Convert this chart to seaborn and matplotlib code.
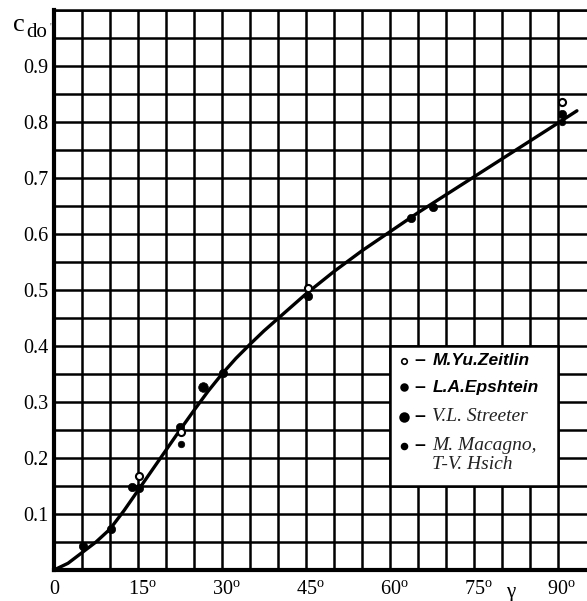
import matplotlib
matplotlib.use("Agg")
import matplotlib.pyplot as plt
import matplotlib.transforms as mtransforms
from matplotlib.patches import Rectangle
import seaborn as sns
import pandas as pd

# ---- data ----
curve_x = [0, 2.5, 5, 7.5, 10, 12.5, 15, 17.5, 20, 22.5, 25, 27.5, 30, 32.5, 35, 37.5, 40, 42.5, 45,
           50, 55, 60, 65, 70, 75, 80, 85, 90, 93.4]
curve_y = [0, 0.012, 0.031, 0.050, 0.073, 0.106, 0.142, 0.178, 0.214, 0.25, 0.285, 0.319, 0.350, 0.378,
           0.403, 0.427, 0.449, 0.471, 0.493, 0.533, 0.570, 0.604, 0.638, 0.670, 0.702, 0.734, 0.766,
           0.798, 0.82]

zeitlin_x = [15.2, 22.7, 45.4, 90.7]
zeitlin_y = [0.168, 0.247, 0.504, 0.836]

epshtein_x = [5.2, 10.2, 13.9, 15.2, 22.5, 30.2, 45.4, 63.7, 67.7, 90.7]
epshtein_y = [0.043, 0.074, 0.148, 0.146, 0.255, 0.352, 0.49, 0.628, 0.649, 0.814]

streeter_x = [26.6]
streeter_y = [0.326]

macagno_x = [22.7, 90.7]
macagno_y = [0.225, 0.80]

legend_names = ["M.Yu.Zeitlin", "L.A.Epshtein", "V.L. Streeter", "M. Macagno,\nT-V. Hsich"]

x_ticks = list(range(0, 95, 5))
x_labels = {0: "0", 15: r"15$^{\mathrm{o}}$", 30: r"30$^{\mathrm{o}}$", 45: r"45$^{\mathrm{o}}$",
            60: r"60$^{\mathrm{o}}$", 75: r"75$^{\mathrm{o}}$", 90: r"90$^{\mathrm{o}}$"}
y_ticks = [i * 0.05 for i in range(0, 21)]
y_labels = {2: "0.1", 4: "0.2", 6: "0.3", 8: "0.4", 10: "0.5", 12: "0.6", 14: "0.7", 16: "0.8", 18: "0.9"}

# ---- style ----
sns.set_theme(style="white")
plt.rcParams["font.family"] = ["Liberation Serif", "DejaVu Serif"]
plt.rcParams["mathtext.fontset"] = "custom"
plt.rcParams["mathtext.rm"] = "Liberation Serif"
plt.rcParams["mathtext.it"] = "Liberation Serif:italic"

W, H = 587, 601
fig = plt.figure(figsize=(W / 100, H / 100), dpi=100)
ax = fig.add_axes([54 / W, (H - 570) / H, (W - 54) / W, 560 / H])

df_curve = pd.DataFrame({"x": curve_x, "y": curve_y})
sns.lineplot(data=df_curve, x="x", y="y", ax=ax, color="black", lw=2.4, zorder=3, sort=True)

def pts(xs, ys, **kw):
    sns.scatterplot(x=xs, y=ys, ax=ax, zorder=4, legend=False, **kw)

pts(epshtein_x, epshtein_y, color="black", s=36, edgecolor="black", linewidth=0.5)
pts(streeter_x, streeter_y, color="black", s=48, edgecolor="black", linewidth=0.5)
pts(macagno_x, macagno_y, color="black", s=22, edgecolor="black", linewidth=0.5)
pts(zeitlin_x, zeitlin_y, color="white", s=26, edgecolor="black", linewidth=1.5)

ax.set_xlim(0, 95.2)
ax.set_ylim(0, 1.0)
ax.set_xticks(x_ticks)
ax.set_xticklabels([x_labels.get(t, "") for t in x_ticks])
ax.set_yticks(y_ticks)
ax.set_yticklabels([y_labels.get(i, "") for i in range(len(y_ticks))])
ax.tick_params(axis="both", length=0, labelsize=14.5, colors="black")
ax.tick_params(axis="x", pad=7)
ax.tick_params(axis="y", pad=4)
for lab in ax.get_xticklabels():
    if lab.get_text() not in ("", "0"):
        lab.set_transform(lab.get_transform() + mtransforms.ScaledTranslation(4 / 100, 0, fig.dpi_scale_trans))
ax.set_xlabel("")
ax.set_ylabel("")

ax.set_axisbelow(True)
ax.grid(True, color="black", lw=1.8)
for side in ["left", "bottom"]:
    ax.spines[side].set_color("black")
    ax.spines[side].set_linewidth(3)
ax.spines["top"].set_color("black")
ax.spines["top"].set_linewidth(1.8)
ax.spines["right"].set_visible(False)

# legend box aligned to the grid
ax.add_patch(Rectangle((60, 0.15), 30, 0.25, facecolor="white", edgecolor="black", lw=1.8, zorder=1.5))
leg_y = [0.374, 0.326, 0.274, 0.222]
leg_sizes = [16, 24, 40, 18]
leg_fc = ["white", "black", "black", "black"]
for i, (name, yy) in enumerate(zip(legend_names, leg_y)):
    ax.scatter([62.5], [yy], s=leg_sizes[i], c=leg_fc[i], edgecolors="black", linewidths=1.2, zorder=5)
    ax.text(64.3, yy, "\u2013", ha="left", va="center", fontsize=14, color="black", zorder=5,
            family="Liberation Sans", weight="bold")
    if i < 2:
        ax.text(67.7, yy, name, ha="left", va="center", fontsize=12.5, color="black", zorder=5,
                family="Liberation Sans", weight="bold", style="italic")
    else:
        ax.text(67.5, yy, name, ha="left", va="top" if i == 3 else "center", fontsize=14, color="#222222",
                zorder=5, family="Liberation Serif", style="italic", linespacing=1.2,
                transform=ax.transData if i == 2 else ax.transData + mtransforms.ScaledTranslation(0, 9 / 100, fig.dpi_scale_trans))

# gamma label on x axis
ax.text(81.5, -0.024, "\u03b3", ha="center", va="top", fontsize=15, color="black")

# c_do label
fig.text(13 / W, 1 - 31 / H, "c", fontsize=19, ha="left", va="baseline", color="black")
fig.text(26 / W, 1 - 37 / H, "do", fontsize=15, ha="left", va="baseline", color="black")
fig.text(50 / W, 1 - 30 / H, "'", fontsize=7, ha="left", va="baseline", color="#555555")

fig.savefig("out.png", dpi=100)
